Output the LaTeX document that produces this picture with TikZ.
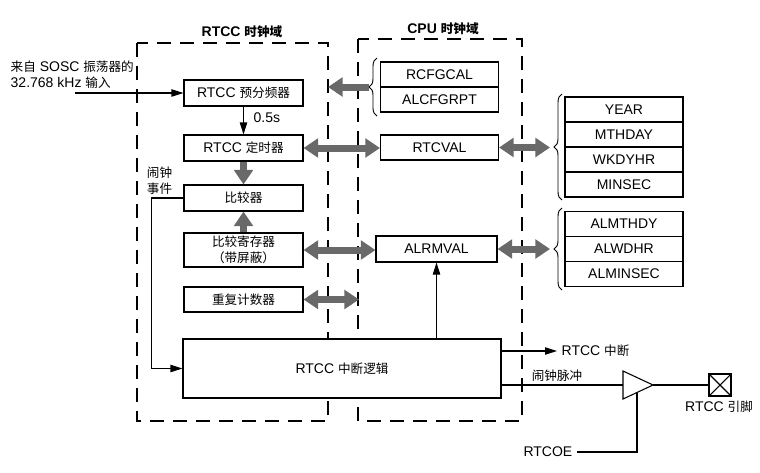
\documentclass[tikz,border=0pt]{standalone}
\usepackage{fontspec}
\setmainfont{Liberation Sans}
\newfontfamily\cjk[Scale=0.9]{Noto Sans CJK SC}
\newcommand{\zh}[1]{{\cjk #1}}
\usetikzlibrary{arrows.meta,decorations.pathreplacing}
\definecolor{arrgray}{RGB}{105,105,105}
\tikzset{
	blk/.style={draw, fill=white, line width=0.8pt, minimum width=89.25pt, minimum height=19.5pt, inner sep=0pt, align=center},
	reg/.style={blk, minimum width=88.5pt, minimum height=18.75pt},
	dom/.style={line width=0.8pt, dash pattern=on 10.5pt off 6.75pt},
	fat/.style={draw=arrgray, line width=5.25pt, -{Triangle[length=11pt,width=14pt]}},
	fatboth/.style={draw=arrgray, line width=5.25pt, {Triangle[length=11pt,width=14pt]}-{Triangle[length=11pt,width=14pt]}},
	thinarr/.style={line width=0.8pt, -{Triangle[length=9pt,width=5.5pt]}},
	wire/.style={line width=0.8pt},
	brc/.style={line width=0.7pt, decorate, decoration={brace, amplitude=6pt}},
}
\begin{document}
\begin{tikzpicture}[x=0.75pt, y=-0.75pt, every node/.style={font=\fontsize{10.5}{12}\selectfont}]
		\useasboundingbox (0,0) rectangle (760,472);
		
		\draw[dom] (137,43) rectangle (328,421);
		\draw[dom] (358,39) rectangle (522,421);
		\node[font=\fontsize{10.5}{12}\selectfont\bfseries] (rtccdom) at (242,32) {RTCC \zh{时钟域}};
		\node[font=\fontsize{10.5}{12}\selectfont\bfseries] (cpudom) at (443,29) {CPU \zh{时钟域}};
		
		\node[anchor=west, align=left] (src) at (6,75) {\zh{来自} SOSC \zh{振荡器的}\\32.768 kHz \zh{输入}};
		\coordinate (srcend) at (75,93);
		
		\node[blk] (pre) at (243.5,93) {RTCC \zh{预分频器}};
		\node[blk] (tmr) at (243.5,148) {RTCC \zh{定时器}};
		\node[blk] (cmp) at (243.5,198) {\zh{比较器}};
		\node[blk, minimum height=25.5pt] (creg) at (243.5,250) {\zh{比较寄存器}\\\zh{（带屏蔽）}};
		\node[blk, minimum height=18.75pt] (rpt) at (243.5,299.5) {\zh{重复计数器}};
		\node[blk, minimum width=238.5pt, minimum height=44.25pt] (intl) at (342,368.5) {RTCC \zh{中断逻辑}};
		\node[anchor=west] (half) at (249,118) {0.5s};
		\node[align=center] (alev) at (159.5,180.5) {\zh{闹钟}\\\zh{事件}};
		
		\node[reg] (rcfg) at (439.5,74.5) {RCFGCAL};
		\node[reg] (alcf) at (439.5,99.5) {ALCFGRPT};
		\node[reg] (rtcval) at (439.5,147.5) {RTCVAL};
		\node[reg, minimum width=90.75pt, minimum height=19.5pt] (alrmval) at (436.5,249) {ALRMVAL};
		
		\node[reg] (year) at (624,109.5) {YEAR};
		\node[reg] (mthday) at (624,134.5) {MTHDAY};
		\node[reg] (wkdyhr) at (624,159.5) {WKDYHR};
		\node[reg] (minsec) at (624,184.5) {MINSEC};
		\node[reg] (almthdy) at (624,224) {ALMTHDY};
		\node[reg] (alwdhr) at (624,249) {ALWDHR};
		\node[reg] (alminsec) at (624,274) {ALMINSEC};
		
		\coordinate (brA) at (369,87);
		\coordinate (brB) at (550,147.5);
		\coordinate (brC) at (550,249);
		\coordinate (rtccedge) at (328,87);
		\coordinate (cpuedge) at (359,299.5);
		\draw[brc] (377,116) to (377,58);
		\draw[brc] (562,200) to (562,94);
		\draw[brc] (562,290) to (562,208);
		
		\draw[fat] (tmr.south) to (cmp.north);
		\draw[fat] (creg.north) to (cmp.south);
		\draw[fat] (brA) to (rtccedge);
		\draw[fatboth] (tmr.east) to (tmr.east -| rtcval.west);
		\draw[fatboth] (creg.east) to (creg.east -| alrmval.west);
		\draw[fatboth] (rpt.east) to (cpuedge);
		\draw[fatboth] (rtcval.east) to (brB);
		\draw[fatboth] (alrmval.east) to (brC);
		
		\draw[thinarr] (srcend) to (pre.west);
		\draw[thinarr] (pre.south) to (tmr.north);
		\draw[thinarr] (cmp.west) -- ++(-32,0) |- (intl.west);
		\draw[thinarr] (alrmval.south |- intl.north) to (alrmval.south);
		
		\node[anchor=west] (irq) at (557,351) {RTCC \zh{中断}};
		\draw[thinarr] (intl.east |- irq.west) to (irq.west);
		
		\coordinate (bufin) at (623,385);
		\coordinate (bufout) at (653,385);
		\coordinate (bufen) at (637,392.5);
		\draw[wire] (623,371) -- (bufout) -- (623,399) -- cycle;
		\node (pulse) at (557,376) {\zh{闹钟脉冲}};
		\draw[wire] (intl.east |- bufin) to (bufin);
		
		\node[draw, line width=0.8pt, minimum size=16.5pt, inner sep=0pt, path picture={
			\draw (path picture bounding box.north west) -- (path picture bounding box.south east);
			\draw (path picture bounding box.south west) -- (path picture bounding box.north east);}] (pin) at (720,385) {};
		\node (pinlbl) at (719,407) {RTCC \zh{引脚}};
		\draw[wire] (bufout) to (pin.west);
		
		\node[anchor=east] (rtcoe) at (577,452) {RTCOE};
		\draw[wire] (rtcoe.east) -| (bufen);
\end{tikzpicture}
\end{document}
